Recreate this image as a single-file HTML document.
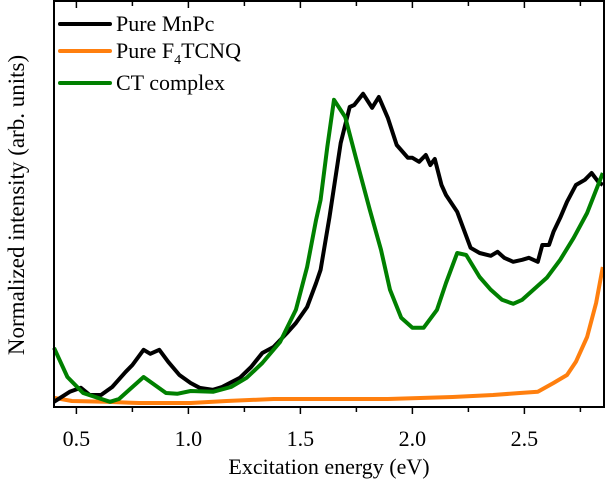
<!DOCTYPE html>
<html><head><meta charset="utf-8"><style>
body{margin:0;background:#fff}
svg{display:block;font-family:"Liberation Serif",serif}
</style></head><body>
<svg id="chart" width="605" height="485" viewBox="0 0 605 485">
<g id="plot"></g>
</svg>
<script>
const energyBlack=[0.40,0.47,0.52,0.56,0.61,0.66,0.72,0.75,0.80,0.83,0.87,0.91,0.96,1.01,1.05,1.11,1.15,1.23,1.28,1.33,1.38,1.44,1.48,1.53,1.57,1.59,1.63,1.68,1.72,1.74,1.78,1.82,1.85,1.89,1.93,1.98,2.00,2.03,2.06,2.08,2.10,2.13,2.15,2.20,2.23,2.26,2.30,2.35,2.38,2.41,2.45,2.49,2.52,2.56,2.58,2.61,2.63,2.66,2.69,2.73,2.77,2.80,2.83,2.85];
const mnpc=[0.013,0.038,0.048,0.030,0.030,0.050,0.088,0.105,0.143,0.133,0.143,0.113,0.080,0.060,0.048,0.043,0.050,0.073,0.100,0.135,0.150,0.185,0.210,0.250,0.310,0.343,0.475,0.660,0.750,0.755,0.783,0.748,0.775,0.723,0.655,0.623,0.623,0.613,0.630,0.605,0.620,0.555,0.530,0.488,0.443,0.398,0.385,0.378,0.388,0.373,0.363,0.368,0.373,0.363,0.405,0.405,0.438,0.473,0.513,0.555,0.568,0.585,0.563,0.555];
const energyGreen=[0.40,0.46,0.53,0.65,0.69,0.80,0.90,0.95,1.01,1.11,1.19,1.26,1.33,1.41,1.48,1.53,1.57,1.59,1.62,1.65,1.70,1.75,1.81,1.86,1.90,1.95,2.00,2.05,2.11,2.15,2.20,2.24,2.30,2.35,2.40,2.45,2.49,2.54,2.60,2.66,2.72,2.78,2.85];
const ctComplex=[0.148,0.075,0.035,0.013,0.020,0.075,0.035,0.033,0.040,0.038,0.050,0.073,0.110,0.163,0.243,0.350,0.468,0.518,0.650,0.768,0.725,0.618,0.493,0.393,0.293,0.223,0.198,0.198,0.243,0.310,0.385,0.380,0.325,0.293,0.268,0.258,0.268,0.293,0.323,0.368,0.423,0.485,0.585];
const energyOrange=[0.40,0.48,0.63,0.78,1.01,1.17,1.38,1.59,1.89,2.18,2.36,2.48,2.56,2.63,2.69,2.73,2.78,2.82,2.85];
const f4tcnq=[0.023,0.015,0.013,0.010,0.010,0.015,0.020,0.020,0.020,0.025,0.030,0.035,0.038,0.060,0.080,0.113,0.175,0.260,0.350];
const xTicks=[0.5,1.0,1.5,2.0,2.5];
const xTickLabels=["0.5","1.0","1.5","2.0","2.5"];
const xMinor=[0.75,1.25,1.75,2.25,2.75];

const NS="http://www.w3.org/2000/svg";
const L=54,R=604,T=1,B=407;
const X=e=>L+(e-0.4)*224;
const Y=v=>B-v*400;
const g=document.getElementById('plot');
function mk(t,a,p){const e=document.createElementNS(NS,t);for(const k in a)e.setAttribute(k,a[k]);(p||g).appendChild(e);return e;}
function series(xs,ys,color,name){
  const d=xs.map((x,i)=>(i?'L':'M')+X(x).toFixed(1)+','+Y(ys[i]).toFixed(1)).join('');
  const p=mk('path',{d:d,fill:'none',stroke:color,'stroke-width':4,'stroke-linejoin':'round'});
  
  
}
series(energyOrange,f4tcnq,'#ff7f0e','series-f4tcnq');
series(energyBlack,mnpc,'#000','series-mnpc');
series(energyGreen,ctComplex,'#008000','series-ct-complex');
const fr=mk('rect',{x:L,y:T,width:R-L,height:B-T,fill:'none',stroke:'#000','stroke-width':2});


xTicks.forEach((t,i)=>{
  mk('line',{x1:X(t),x2:X(t),y1:B,y2:B+7,stroke:'#000','stroke-width':1.5});
  mk('line',{x1:X(t),x2:X(t),y1:T,y2:T+7,stroke:'#000','stroke-width':1.5});
  const tx=mk('text',{x:X(t),y:B+39,'text-anchor':'middle','font-size':22});
  tx.textContent=xTickLabels[i];
  
  
});
xMinor.forEach(t=>{
  mk('line',{x1:X(t),x2:X(t),y1:B,y2:B+5,stroke:'#000','stroke-width':1.5});
  mk('line',{x1:X(t),x2:X(t),y1:T,y2:T+5,stroke:'#000','stroke-width':1.5});
});
const xt=mk('text',{x:(L+R)/2,y:474,'text-anchor':'middle','font-size':22});
xt.textContent='Excitation energy (eV)';


const yt=mk('text',{x:0,y:0,'text-anchor':'middle','font-size':23,transform:'translate(24,205) rotate(-90)'});
yt.textContent='Normalized intensity (arb. units)';


const leg=[['#000',24,'Pure MnPc'],['#ff7f0e',51,'Pure F4TCNQ'],['#008000',83,'CT complex']];
leg.forEach(l=>{
  const lg=mk('g',{});
  
  
  mk('line',{x1:60,x2:110,y1:l[1],y2:l[1],stroke:l[0],'stroke-width':4,'stroke-linecap':'round'},lg);
  const t=mk('text',{x:116,y:l[1]+7,'font-size':22},lg);
  if(l[2]==='Pure F4TCNQ'){t.innerHTML='Pure F<tspan font-size="14" dy="6">4</tspan><tspan dy="-6">TCNQ</tspan>';}
  else t.textContent=l[2];
});
</script>
</body></html>
